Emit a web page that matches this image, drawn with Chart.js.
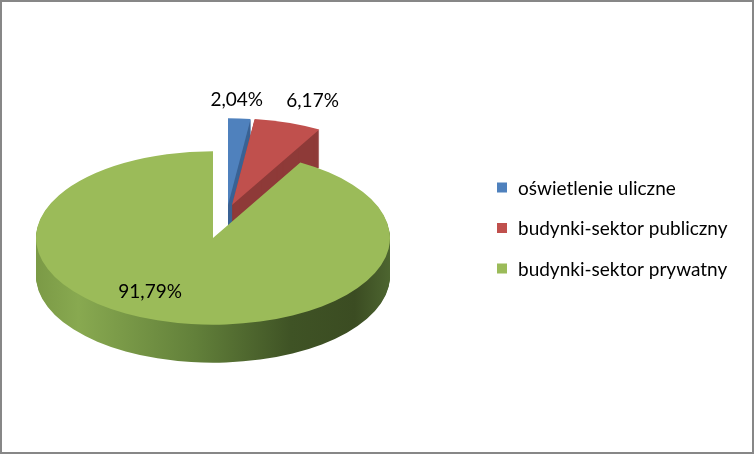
<!DOCTYPE HTML>
<html>

<head>
    <meta charset="UTF-8">
    <title>Udział zużycia energii</title>
    <script src="https://cdn.jsdelivr.net/npm/chart.js"></script>
    <style>
        html, body { margin: 0; padding: 0; background: #fff; }
        #frame { width: 754px; height: 454px; box-sizing: border-box; border: 2px solid #878787; background: #fff; }
        #frame canvas { display: block; }
    </style>
</head>

<body>
    <div id="frame"><canvas id="myChart" width="750" height="450"></canvas></div>
    <script>
        // data
        const categories = ['oświetlenie uliczne', 'budynki-sektor publiczny', 'budynki-sektor prywatny'];
        const shares = [2.04, 6.17, 91.79];

        const tilt = 0.49;     // vertical squash -> looks like a tilted disc
        const depth = 38;      // wall thickness in px
        const FONT = '19px Lato';

        // draw one slice of the pie (geometry comes from the chart's arc element)
        function slicePath(ctx, el) {
            ctx.beginPath();
            ctx.moveTo(el.x, el.y);
            ctx.arc(el.x, el.y, el.outerRadius, el.startAngle, el.endAngle);
            ctx.closePath();
        }

        function fillSlice(ctx, el, dx, dy, style) {
            ctx.save();
            ctx.translate(dx + el.x, dy + el.y);
            ctx.scale(1, tilt);
            ctx.translate(-el.x, -el.y);
            slicePath(ctx, el);
            ctx.fillStyle = style;
            ctx.fill();
            ctx.restore();
        }

        const pie3d = {
            id: 'pie3d',
            beforeDatasetsDraw(chart, args, opts) {
                const ctx = chart.ctx;
                const arcs = chart.getDatasetMeta(0).data;
                const colors = chart.data.datasets[0].backgroundColor;
                arcs.forEach((el, i) => {
                    const [ex, ey] = opts.explode[i];
                    let side = opts.sideColors[i];
                    if (!side) {
                        const R = el.outerRadius;
                        side = ctx.createLinearGradient(el.x - R, 0, el.x + R, 0);
                        side.addColorStop(0, '#7b9a46');
                        side.addColorStop(0.12, '#88a950');
                        side.addColorStop(0.45, '#62803a');
                        side.addColorStop(0.72, '#3f5325');
                        side.addColorStop(0.9, '#3b4c22');
                        side.addColorStop(1, '#4d6530');
                    }
                    for (let d = depth; d >= 1; d--) {
                        fillSlice(ctx, el, ex, ey + d, side);
                    }
                    fillSlice(ctx, el, ex, ey, colors[i]);
                });
                return false; // our own drawing replaces the flat pie
            },
            afterDraw(chart, args, opts) {
                const ctx = chart.ctx;
                const arcs = chart.getDatasetMeta(0).data;
                const ds = chart.data.datasets[0];
                ctx.save();
                ctx.font = FONT;
                ctx.fillStyle = '#000';
                ctx.textBaseline = 'middle';

                // value labels
                ctx.textAlign = 'center';
                arcs.forEach((el, i) => {
                    const [ex, ey] = opts.explode[i];
                    const [f, nx] = opts.labelAnchor[i];
                    const mid = (el.startAngle + el.endAngle) / 2;
                    const x = el.x + Math.cos(mid) * el.outerRadius * f + ex + nx;
                    const y = el.y + Math.sin(mid) * el.outerRadius * f * tilt + ey;
                    ctx.fillText(shares[i].toFixed(2).replace('.', ',') + '%', x, y);
                });

                // legend
                ctx.textAlign = 'left';
                const lg = opts.legend;
                chart.data.labels.forEach((lab, i) => {
                    const cy = lg.top + i * lg.step;
                    ctx.fillStyle = ds.backgroundColor[i];
                    ctx.fillRect(lg.x, cy - lg.box / 2, lg.box, lg.box);
                    ctx.fillStyle = '#000';
                    ctx.fillText(lab, lg.x + lg.box + 11, cy + 1);
                });
                ctx.restore();
            }
        };

        var ctx = document.getElementById('myChart').getContext('2d');
        const chart = new Chart(ctx, {
            type: 'pie',
            data: {
                labels: categories,
                datasets: [{
                    data: shares,
                    backgroundColor: ['#4f81bd', '#c0504d', '#9bbb59'],
                    borderWidth: 0
                }]
            },
            options: {
                responsive: false,
                animation: false,
                layout: { padding: { left: 34, right: 362, top: 59, bottom: 37 } },
                plugins: {
                    legend: { display: false },
                    tooltip: { enabled: false },
                    pie3d: {
                        explode: [[15, -33], [19, -33], [0, 0]],
                        sideColors: ['#3b6394', '#8e3a38', null],
                        labelAnchor: [[1.21, -5], [1.26, 10], [0.64, -34]],
                        legend: { x: 495, top: 185.5, step: 40.5, box: 10 }
                    }
                }
            },
            plugins: [pie3d]
        });
    </script>
</body>

</html>
